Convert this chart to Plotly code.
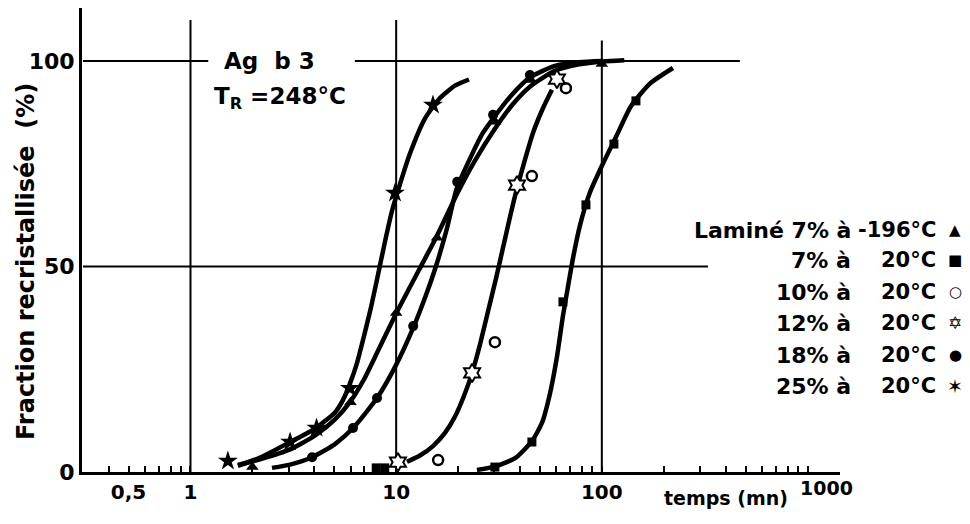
import plotly.graph_objects as go

# ---------------- data ----------------
# time (min) and recrystallised fraction (%) for each series (markers)
tri_t = [2.0, 6.0, 10.0, 15.8, 30.3, 45.2, 100.0]
tri_f = [1.2, 17.0, 38.7, 57.0, 85.2, 95.4, 99.3]

sq_t = [8.0, 8.8, 30.2, 45.7, 64.7, 83.7, 114.5, 146.5]
sq_f = [1.0, 1.0, 1.2, 7.3, 41.4, 65.0, 79.8, 90.3]

ocirc_t = [16.0, 30.2, 45.7, 66.9]
ocirc_f = [2.9, 31.6, 72.0, 93.4]

hex_t = [10.2, 23.4, 38.7, 60.5]
hex_f = [2.4, 24.1, 69.8, 95.6]

circ_t = [3.9, 6.17, 8.07, 12.1, 19.8, 29.6, 44.7]
circ_f = [3.6, 10.7, 18.0, 35.5, 70.6, 86.9, 96.6]

star_t = [1.52, 3.05, 4.1, 5.96, 9.87, 15.1]
star_f = [2.7, 7.3, 10.7, 20.4, 67.9, 89.3]

# hand-drawn fitted curves
star_curve_t = [1.70, 2.18, 3.05, 4.07, 5.04, 5.51, 5.96, 6.45, 6.97, 7.54, 8.16, 8.82,
                9.54, 10.43, 11.67, 13.80, 16.33, 19.32, 22.59]
star_curve_f = [1.5, 3.5, 7.3, 10.7, 14.5, 17.5, 21.5, 26.5, 33.0, 40.0, 48.0, 56.0,
                63.5, 70.0, 77.5, 86.0, 91.0, 94.0, 95.5]

tri_curve_t = [1.70, 2.18, 3.05, 4.07, 5.04, 5.96, 6.97, 8.16, 9.98, 11.67, 13.5, 15.8,
               19.7, 24.0, 30.2, 36.9, 45.3, 59.1, 77.6, 101.2, 128.6]
tri_curve_f = [1.7, 3.1, 5.5, 9.0, 12.8, 17.0, 22.5, 29.5, 38.5, 45.0, 51.0, 57.5,
               67.5, 75.5, 83.5, 89.5, 94.0, 97.6, 99.2, 99.9, 100.2]

circ_curve_t = [2.49, 3.05, 3.90, 5.04, 6.17, 8.07, 9.98, 12.2, 13.95, 15.6, 17.6, 19.7,
                22.98, 26.4, 29.6, 36.1, 44.7, 59.1, 77.6, 101.2]
circ_curve_f = [1.0, 1.8, 3.6, 6.8, 10.7, 18.0, 26.0, 35.5, 43.0, 50.0, 59.0, 69.0,
                76.5, 82.5, 86.0, 91.5, 96.0, 98.8, 99.7, 100.0]

hex_curve_t = [11.29, 13.05, 15.10, 17.27, 19.32, 21.36, 23.37, 25.55, 27.94, 30.56,
               33.05, 35.74, 38.67, 42.29, 46.26, 51.72, 57.2]
hex_curve_f = [2.5, 4.0, 6.3, 9.5, 13.5, 18.5, 24.0, 31.0, 39.0, 47.0,
               54.5, 62.0, 69.0, 76.0, 82.5, 88.5, 93.0]

sq_curve_t = [24.7, 30.2, 38.2, 45.7, 51.2, 55.9, 60.5, 64.7, 68.4, 72.4, 78.3, 87.5,
              101.2, 118.4, 138.5, 171.3, 221.6]
sq_curve_f = [0.5, 1.3, 3.5, 7.5, 12.0, 19.0, 28.0, 38.0, 45.0, 52.0, 60.0, 68.0,
              75.0, 82.0, 89.0, 94.5, 98.3]

# axis ticks
x_tickvals = [0.4, 0.5, 0.6, 0.7, 0.8, 0.9, 1,
              2, 3, 4, 5, 6, 7, 8, 9, 10,
              20, 30, 40, 50, 60, 70, 80, 90, 100,
              200, 300, 400, 500, 600, 700, 800, 900, 1000]
x_labels = {0.5: "0,5", 1: "1", 10: "10", 100: "100"}
y_tickvals = [0, 50, 100]
y_ticktext = ["0", "50", "100"]

# partial grid lines of the original drawing
vgrid_t = [1, 10, 100]
vgrid_top = [110, 110, 105]
hgrid_segments = [(100, 0.3, 1.22), (100, 6.3, 469), (50, 0.3, 328)]

legend_left = ["Laminé 7% à", "7% à", "10% à", "12% à", "18% à", "25% à"]
legend_right = ["-196°C", "20°C", "20°C", "20°C", "20°C", "20°C"]
legend_glyph = ["▲", "■", "○", "✡", "●", "✶"]
legend_glyph_size = [15, 15, 15, 17, 15, 19]

# ---------------- figure ----------------
FONT = "DejaVu Sans, sans-serif"
W, H = 970, 524
L, R, T, B = 82, 130, 8, 52
PW, PH = W - L - R, H - T - B


def px(x):
    return (x - L) / PW


def py(y):
    return (H - B - y) / PH


fig = go.Figure()


def add_curve(t, f):
    fig.add_trace(go.Scatter(x=t, y=f, mode="lines",
                             line=dict(color="black", width=4.5, shape="spline", smoothing=0.6),
                             hoverinfo="skip", showlegend=False))


def add_pts(t, f, symbol, size, lw=0):
    fig.add_trace(go.Scatter(x=t, y=f, mode="markers",
                             marker=dict(symbol=symbol, size=size, color="black",
                                         line=dict(color="black", width=lw)),
                             showlegend=False))


for ct, cf in [(star_curve_t, star_curve_f), (tri_curve_t, tri_curve_f),
               (circ_curve_t, circ_curve_f), (hex_curve_t, hex_curve_f),
               (sq_curve_t, sq_curve_f)]:
    add_curve(ct, cf)

add_pts(tri_t, tri_f, "triangle-up", 11)
add_pts(sq_t, sq_f, "square", 9)
fig.add_trace(go.Scatter(x=ocirc_t, y=ocirc_f, mode="markers",
                         marker=dict(symbol="circle-open", size=10, color="black",
                                     line=dict(color="black", width=2.5)),
                         showlegend=False))
fig.add_trace(go.Scatter(x=hex_t, y=hex_f, mode="markers",
                         marker=dict(symbol="hexagram", size=14, color="white",
                                     line=dict(color="black", width=2)),
                         showlegend=False))
add_pts(circ_t, circ_f, "circle", 10)
add_pts(star_t, star_f, "star", 15)

shapes = []
for xv, top in zip(vgrid_t, vgrid_top):
    shapes.append(dict(type="line", xref="x", yref="y", x0=xv, x1=xv, y0=0, y1=top,
                       line=dict(color="black", width=2), layer="below"))
for yv, xa, xb in hgrid_segments:
    shapes.append(dict(type="line", xref="x", yref="y", x0=xa, x1=xb, y0=yv, y1=yv,
                       line=dict(color="black", width=2), layer="below"))

bold = dict(family=FONT, color="black", weight="bold")
ann = []
ann.append(dict(text="Ag  b 3", x=px(222), y=py(61), xref="paper", yref="paper",
                xanchor="left", yanchor="middle", showarrow=False, font=dict(bold, size=23)))
ann.append(dict(text="T<sub>R</sub> =248°C", x=px(212), y=py(98), xref="paper", yref="paper",
                xanchor="left", yanchor="middle", showarrow=False, font=dict(bold, size=23)))
ann.append(dict(text="Fraction recristallisée  (%)", x=px(26), y=py(262), xref="paper",
                yref="paper", xanchor="center", yanchor="middle", textangle=-90,
                showarrow=False, font=dict(bold, size=24)))
ann.append(dict(text="temps (mn)", x=px(790), y=py(498), xref="paper", yref="paper",
                xanchor="right", yanchor="middle", showarrow=False, font=dict(bold, size=19)))
ann.append(dict(text="1000", x=px(826), y=py(488), xref="paper", yref="paper",
                xanchor="center", yanchor="middle", showarrow=False, font=dict(bold, size=19)))

row_y = [230, 260, 292, 323, 355, 386]
for yy, lt, rt, g, gs in zip(row_y, legend_left, legend_right, legend_glyph, legend_glyph_size):
    ann.append(dict(text=lt, x=px(853), y=py(yy), xref="paper", yref="paper",
                    xanchor="right", yanchor="middle", showarrow=False, font=dict(bold, size=22)))
    ann.append(dict(text=rt, x=px(938), y=py(yy), xref="paper", yref="paper",
                    xanchor="right", yanchor="middle", showarrow=False, font=dict(bold, size=21)))
    ann.append(dict(text=g, x=px(955), y=py(yy), xref="paper", yref="paper",
                    xanchor="center", yanchor="middle", showarrow=False,
                    font=dict(family="DejaVu Sans", size=gs, color="black")))

fig.update_layout(
    width=W, height=H,
    margin=dict(l=L, r=R, t=T, b=B),
    paper_bgcolor="white", plot_bgcolor="white",
    shapes=shapes, annotations=ann,
    font=dict(family=FONT, size=20, color="black"),
    xaxis=dict(type="log", range=[-0.5275, 3.158], showgrid=False, zeroline=False,
               showline=True, linecolor="black", linewidth=3,
               tickmode="array", tickvals=x_tickvals,
               ticktext=[x_labels.get(v, "") for v in x_tickvals],
               ticks="inside", ticklen=6, tickwidth=2, tickcolor="black",
               tickfont=dict(bold, size=20)),
    yaxis=dict(range=[0, 112.9], showgrid=False, zeroline=False,
               showline=True, linecolor="black", linewidth=3,
               tickmode="array", tickvals=y_tickvals, ticktext=y_ticktext,
               ticks="", tickfont=dict(bold, size=22)),
)

fig.write_html("out.html")
